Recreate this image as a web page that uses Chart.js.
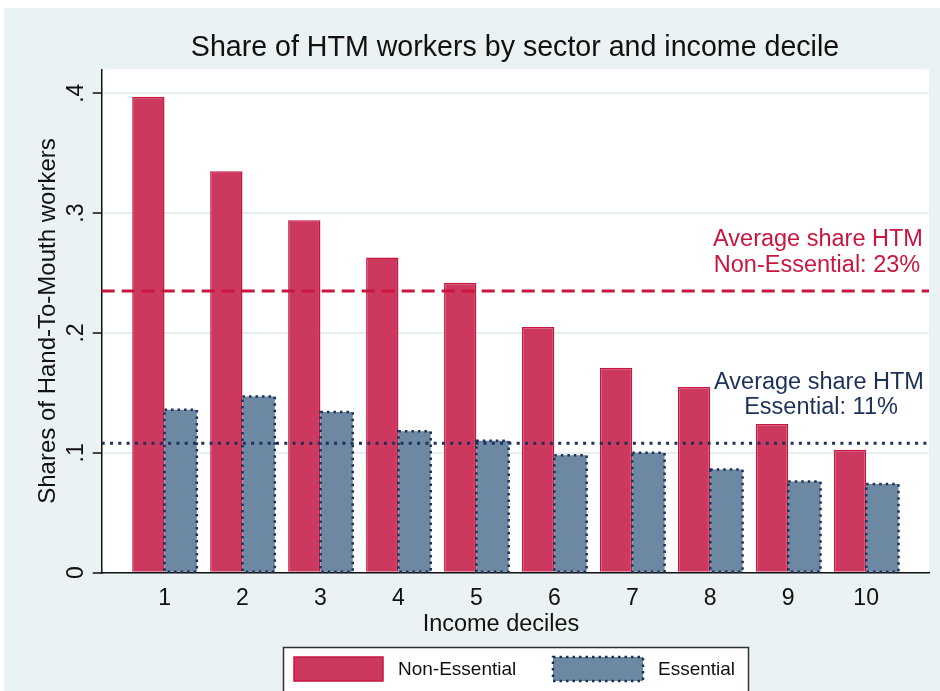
<!DOCTYPE html>
<html>
<head>
<meta charset="utf-8">
<script src="https://cdn.jsdelivr.net/npm/chart.js@4.4.0/dist/chart.umd.min.js"></script>
<style>
    html, body { margin: 0; padding: 0; background: #ffffff; }
    #wrap { width: 940px; height: 691px; position: relative; }
</style>
</head>
<body>
<div id="wrap"><canvas id="htmChart" width="940" height="691"></canvas></div>
<script>
// ============================================
// DATA
// ============================================

const deciles = [1, 2, 3, 4, 5, 6, 7, 8, 9, 10];
const nonEssential = [0.397, 0.335, 0.294, 0.263, 0.242, 0.205, 0.171, 0.155, 0.124, 0.1025];
const essential = [0.136, 0.147, 0.134, 0.118, 0.110, 0.098, 0.100, 0.086, 0.076, 0.074];
const averages = [0.235, 0.108];
const averageLabels = [
    ['Average share HTM', 'Non-Essential: 23%'],
    ['Average share HTM', 'Essential: 11%']
];
const yTicks = [0, 0.1, 0.2, 0.3, 0.4];
const seriesNames = ['Non-Essential', 'Essential'];

const FONT = '"Liberation Sans", Arial, Helvetica, sans-serif';
const RED = '#cd385e';
const RED_LINE = '#c8163f';
const BLUE = '#6c88a2';
const NAVY = '#1c3158';
const BG = '#eaf2f4';

// ============================================
// PLUGIN: background, dotted borders, averages, title, legend
// ============================================

const stataPlugin = {
    id: 'stataPlugin',
    beforeDraw(chart) {
        const ctx = chart.ctx;
        const a = chart.chartArea;
        ctx.save();
        ctx.fillStyle = '#ffffff';
        ctx.fillRect(0, 0, chart.width, chart.height);
        ctx.fillStyle = BG;
        ctx.fillRect(4, 8, chart.width - 4, chart.height - 8);
        ctx.fillStyle = '#ffffff';
        ctx.fillRect(a.left, a.top, a.right - a.left, a.bottom - a.top);
        ctx.restore();
    },
    afterDatasetsDraw(chart) {
        const ctx = chart.ctx;
        const a = chart.chartArea;
        const y = chart.scales.y;

        // dotted outline on the essential bars
        const meta = chart.getDatasetMeta(1);
        ctx.save();
        ctx.strokeStyle = NAVY;
        ctx.lineWidth = 2.5;
        ctx.setLineDash([2.5, 4]);
        meta.data.forEach(bar => {
            const p = bar.getProps(['x', 'y', 'base', 'width'], true);
            ctx.strokeRect(p.x - p.width / 2, p.y, p.width, p.base - p.y);
        });
        ctx.restore();

        // average lines
        const styles = [
            { color: RED_LINE, dash: [13, 7], width: 3 },
            { color: NAVY, dash: [3, 5.3], width: 3 }
        ];
        averages.forEach((v, i) => {
            const py = y.getPixelForValue(v);
            ctx.save();
            ctx.strokeStyle = styles[i].color;
            ctx.lineWidth = styles[i].width;
            ctx.setLineDash(styles[i].dash);
            ctx.beginPath();
            ctx.moveTo(a.left, py);
            ctx.lineTo(a.right, py);
            ctx.stroke();
            ctx.restore();
        });

        // average labels
        ctx.save();
        ctx.font = '23.5px ' + FONT;
        ctx.textAlign = 'center';
        ctx.textBaseline = 'middle';
        ctx.fillStyle = RED_LINE;
        ctx.fillText(averageLabels[0][0], 818, 240);
        ctx.fillText(averageLabels[0][1], 817, 266);
        ctx.fillStyle = NAVY;
        ctx.fillText(averageLabels[1][0], 819, 383);
        ctx.fillText(averageLabels[1][1], 821, 408);
        ctx.restore();
    },
    afterDraw(chart) {
        const ctx = chart.ctx;
        ctx.save();
        ctx.fillStyle = '#111111';
        ctx.textAlign = 'center';
        ctx.textBaseline = 'middle';
        ctx.font = '28.6px ' + FONT;
        ctx.fillText('Share of HTM workers by sector and income decile', 515, 48);
        ctx.font = '23.5px ' + FONT;
        ctx.fillText('Income deciles', 501, 625);

        // legend
        ctx.fillStyle = '#ffffff';
        ctx.fillRect(283, 647, 465, 50);
        ctx.strokeStyle = '#333333';
        ctx.lineWidth = 1.5;
        ctx.strokeRect(283.5, 647.5, 465, 50);

        ctx.fillStyle = RED;
        ctx.fillRect(294, 657, 89, 24);
        ctx.strokeStyle = RED_LINE;
        ctx.lineWidth = 1.5;
        ctx.strokeRect(294, 657, 89, 24);

        ctx.fillStyle = BLUE;
        ctx.fillRect(553, 657, 90, 24);
        ctx.strokeStyle = NAVY;
        ctx.lineWidth = 2.5;
        ctx.setLineDash([2.5, 4]);
        ctx.strokeRect(553, 657, 90, 24);
        ctx.setLineDash([]);

        ctx.fillStyle = '#111111';
        ctx.font = '19px ' + FONT;
        ctx.textAlign = 'left';
        ctx.fillText(seriesNames[0], 398, 670);
        ctx.fillText(seriesNames[1], 658, 670);
        ctx.restore();
    }
};

// ============================================
// CHART
// ============================================

function toPoints(values) {
    return deciles.map((d, i) => ({ x: d, y: values[i] }));
}

function formatShare(value) {
    return value === 0 ? '0' : value.toFixed(1).replace(/^0/, '');
}

const ctx = document.getElementById('htmChart');

new Chart(ctx, {
    type: 'bar',
    data: {
        datasets: [{
            label: seriesNames[0],
            data: toPoints(nonEssential),
            backgroundColor: RED,
            borderColor: RED_LINE,
            borderWidth: 1.5,
            categoryPercentage: 0.829,
            barPercentage: 1.0
        }, {
            label: seriesNames[1],
            data: toPoints(essential),
            backgroundColor: BLUE,
            borderWidth: 0,
            categoryPercentage: 0.829,
            barPercentage: 1.0
        }]
    },
    options: {
        responsive: false,
        animation: false,
        layout: {
            padding: { left: 0, right: 11, top: 69.3, bottom: 0 }
        },
        plugins: {
            legend: { display: false },
            title: { display: false },
            tooltip: { enabled: false }
        },
        scales: {
            x: {
                type: 'linear',
                offset: false,
                min: 0.194,
                max: 10.806,
                afterBuildTicks: scale => {
                    scale.ticks = deciles.map(v => ({ value: v }));
                },
                afterFit: scale => { scale.height = 118.3; },
                grid: { display: false, drawTicks: false, offset: false },
                border: { color: '#111111', width: 1.5 },
                ticks: {
                    color: '#111111',
                    padding: 12,
                    font: { family: FONT, size: 23 }
                }
            },
            y: {
                min: 0,
                max: 0.42,
                afterBuildTicks: scale => {
                    scale.ticks = yTicks.map(v => ({ value: v }));
                },
                afterFit: scale => { scale.width = 101.7; },
                grid: {
                    color: '#e6eff2',
                    lineWidth: 2,
                    tickColor: '#111111',
                    tickLength: 9,
                    tickWidth: 1.5
                },
                border: { color: '#111111', width: 1.5 },
                ticks: {
                    color: '#111111',
                    minRotation: 90,
                    maxRotation: 90,
                    crossAlign: 'center',
                    padding: 6.6,
                    font: { family: FONT, size: 23 },
                    callback: value => formatShare(value)
                },
                title: {
                    display: true,
                    text: 'Shares of Hand-To-Mouth workers',
                    color: '#111111',
                    font: { family: FONT, size: 24 },
                    padding: { top: 33.6, bottom: 0 }
                }
            }
        }
    },
    plugins: [stataPlugin]
});
</script>
</body>
</html>
